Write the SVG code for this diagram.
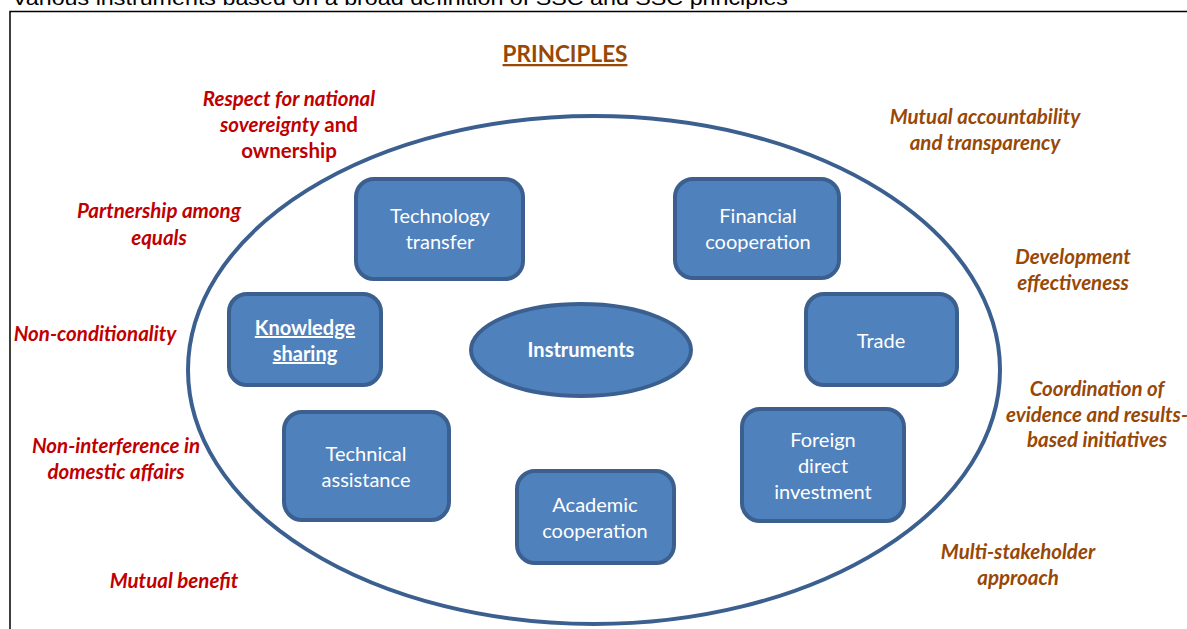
<svg xmlns="http://www.w3.org/2000/svg" width="1187" height="629" viewBox="0 0 1187 629">
<style>
.box{fill:#4f81bd;stroke:#3b6090;stroke-width:4}
.bt{font-family:Lato,"Open Sans","Liberation Sans",sans-serif;font-size:20px;fill:#fff;text-anchor:middle}
.bold{font-weight:bold}
.red{font-family:Lato,"Open Sans","Liberation Sans",sans-serif;font-size:20.5px;font-weight:bold;font-style:italic;fill:#c00000;text-anchor:middle}
.brown{font-family:Lato,"Open Sans","Liberation Sans",sans-serif;font-size:20.5px;font-weight:bold;font-style:italic;fill:#984806;text-anchor:middle}
.up{font-style:normal}
</style>
<rect width="1187" height="629" fill="#fff"/>
<text x="12" y="5" font-family="Liberation Sans,Arial,sans-serif" font-size="21" fill="#000" textLength="776" lengthAdjust="spacingAndGlyphs">Various instruments based on a broad definition of SSC and SSC principles</text>
<rect x="10" y="11.5" width="1300" height="700" fill="none" stroke="#000" stroke-width="1.5"/>
<text x="565" y="62" font-family="Lato,'Open Sans',sans-serif" font-size="22.5" font-weight="bold" fill="#984806" text-anchor="middle" text-decoration="underline">PRINCIPLES</text>
<g id="outer"><ellipse cx="594" cy="370" rx="406" ry="254" fill="none" stroke="#3b6090" stroke-width="4"/></g>
<g id="principles-left">
<text class="red" x="289" y="106">Respect for national</text>
<text class="red" x="289" y="132">sovereignty<tspan class="up"> and</tspan></text>
<text class="red" x="289" y="158"><tspan class="up">ownership</tspan></text>
<text class="red" x="159" y="218">Partnership among</text>
<text class="red" x="159" y="245">equals</text>
<text class="red" x="95" y="341">Non-conditionality</text>
<text class="red" x="116" y="453">Non-interference in</text>
<text class="red" x="116" y="479">domestic affairs</text>
<text class="red" x="174" y="588">Mutual benefit</text>
</g>
<g id="principles-right">
<text class="brown" x="985" y="124">Mutual accountability</text>
<text class="brown" x="985" y="150">and transparency</text>
<text class="brown" x="1073" y="264">Development</text>
<text class="brown" x="1073" y="290">effectiveness</text>
<text class="brown" x="1097" y="396">Coordination of</text>
<text class="brown" x="1097" y="422">evidence and results-</text>
<text class="brown" x="1097" y="447">based initiatives</text>
<text class="brown" x="1018" y="559">Multi-stakeholder</text>
<text class="brown" x="1018" y="585">approach</text>
</g>
<g id="connectors"></g>
<g id="tech-transfer"><rect class="box" x="356" y="179" width="167" height="100" rx="18"/><text class="bt" x="440" y="223">Technology</text><text class="bt" x="440" y="249">transfer</text></g>
<g id="financial"><rect class="box" x="675" y="179" width="164" height="99" rx="18"/><text class="bt" x="758" y="223">Financial</text><text class="bt" x="758" y="249">cooperation</text></g>
<g id="knowledge"><rect class="box" x="229" y="294" width="152" height="91" rx="18"/><text class="bt bold" x="305" y="335" text-decoration="underline">Knowledge</text><text class="bt bold" x="305" y="361" text-decoration="underline">sharing</text></g>
<g id="instruments"><ellipse class="box" cx="581" cy="350" rx="110" ry="46"/><text class="bt bold" x="581" y="357">Instruments</text></g>
<g id="trade"><rect class="box" x="806" y="294" width="151" height="91" rx="18"/><text class="bt" x="881" y="348">Trade</text></g>
<g id="technical"><rect class="box" x="284" y="412" width="165" height="108" rx="18"/><text class="bt" x="366" y="461">Technical</text><text class="bt" x="366" y="487">assistance</text></g>
<g id="academic"><rect class="box" x="517" y="471" width="157" height="92" rx="18"/><text class="bt" x="595" y="512">Academic</text><text class="bt" x="595" y="538">cooperation</text></g>
<g id="fdi"><rect class="box" x="742" y="409" width="162" height="112" rx="18"/><text class="bt" x="823" y="447">Foreign</text><text class="bt" x="823" y="473">direct</text><text class="bt" x="823" y="499">investment</text></g>
</svg>
